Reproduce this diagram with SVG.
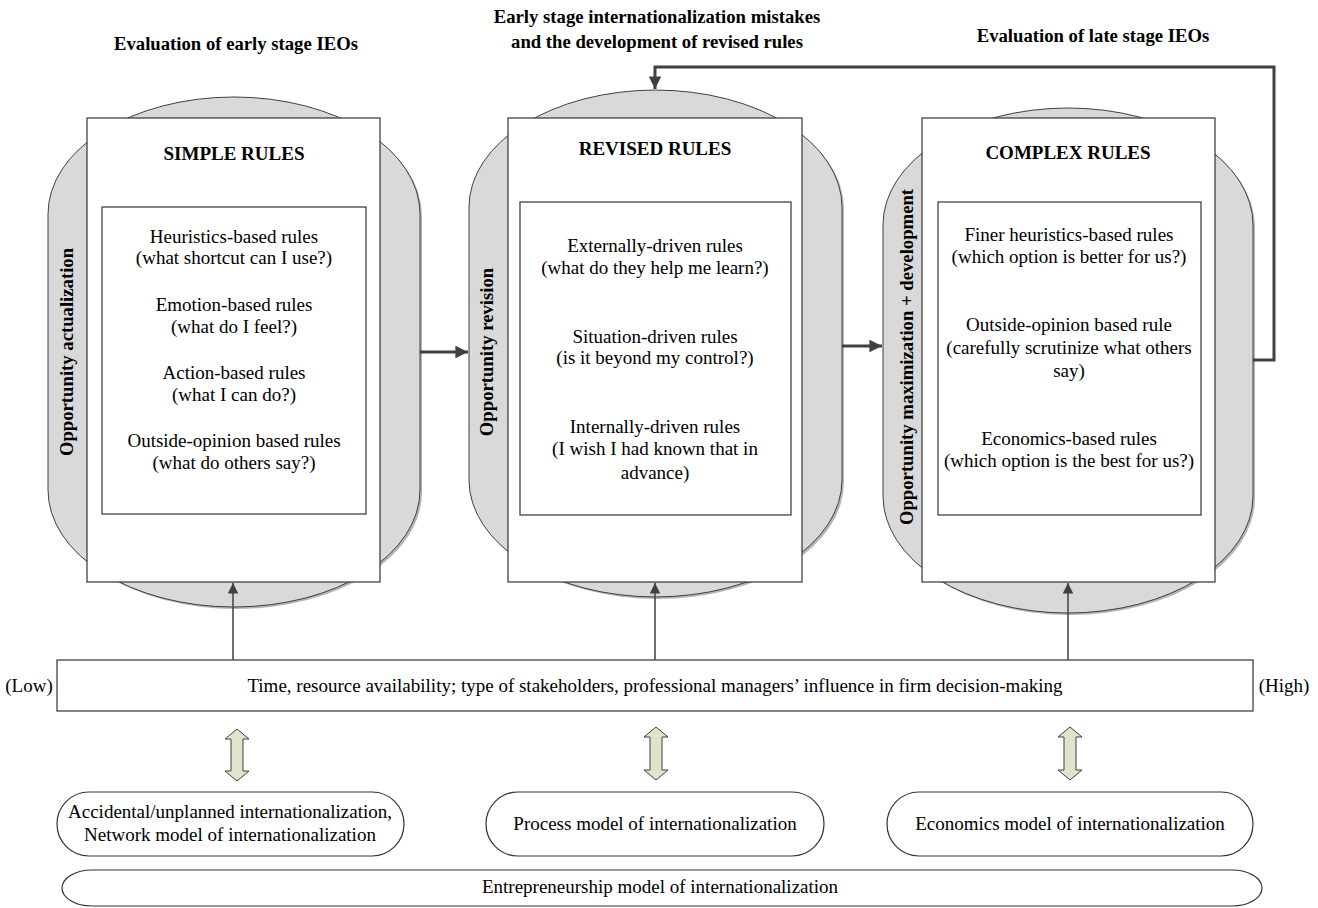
<svg xmlns="http://www.w3.org/2000/svg" width="1318" height="908" viewBox="0 0 1318 908">
<defs>
<style>
text{font-family:"Liberation Serif","Times New Roman",serif;fill:#000;}
.t{font-size:19px;text-anchor:middle;}
.b{font-size:18.7px;font-weight:bold;text-anchor:middle;}
.h{font-size:19px;font-weight:bold;text-anchor:middle;}
.v{font-size:18.7px;font-weight:bold;text-anchor:middle;}
.gray{fill:#d9d9d9;stroke:#404040;stroke-width:1;}
.shadow{fill:#b5b5b5;stroke:none;}
.white{fill:#fff;stroke:#333;stroke-width:1.2;}
.thick{fill:none;stroke:#404040;stroke-width:3;}
.thin{fill:none;stroke:#404040;stroke-width:1.5;}
.dbl{fill:#dde5cc;stroke:#404040;stroke-width:1;}
.pill{fill:#fff;stroke:#333;stroke-width:1.2;}
</style>
<marker id="ah" viewBox="0 0 10 10" refX="10" refY="5" markerWidth="4.2" markerHeight="4.2" markerUnits="strokeWidth" orient="auto">
<path d="M0,0 L10,5 L0,10 Z" fill="#404040"/>
</marker>
<marker id="ahs" viewBox="0 0 10 10" refX="10" refY="5" markerWidth="8" markerHeight="7" markerUnits="strokeWidth" orient="auto">
<path d="M0,0 L10,5 L0,10 Z" fill="#404040"/>
</marker>
</defs>

<g id="titles">
<text class="b" x="236" y="50">Evaluation of early stage IEOs</text>
<text class="b" x="657" y="23">Early stage internationalization mistakes</text>
<text class="b" x="657" y="48">and the development of revised rules</text>
<text class="b" x="1093" y="42">Evaluation of late stage IEOs</text>
</g>

<g id="node-simple">
<path class="shadow" d="M50,216 A186,117 0 0 1 422,216 L422,492 A186,117 0 0 1 50,492 Z"/>
<path class="gray" d="M48,214 A186,117 0 0 1 420,214 L420,490 A186,117 0 0 1 48,490 Z"/>
<rect class="white" x="87" y="118" width="293" height="464"/>
<text class="h" x="234" y="160">SIMPLE RULES</text>
<rect class="white" x="102" y="207" width="264" height="307"/>
<text class="t" x="234" y="243">Heuristics-based rules</text>
<text class="t" x="234" y="264">(what shortcut can I use?)</text>
<text class="t" x="234" y="311">Emotion-based rules</text>
<text class="t" x="234" y="333">(what do I feel?)</text>
<text class="t" x="234" y="379">Action-based rules</text>
<text class="t" x="234" y="401">(what I can do?)</text>
<text class="t" x="234" y="447">Outside-opinion based rules</text>
<text class="t" x="234" y="469">(what do others say?)</text>
<text class="v" transform="translate(73,352) rotate(-90)">Opportunity actualization</text>
</g>

<g id="node-revised">
<path class="shadow" d="M471,209 A186.5,117 0 0 1 844,209 L844,482 A186.5,117 0 0 1 471,482 Z"/>
<path class="gray" d="M469,207 A186.5,117 0 0 1 842,207 L842,480 A186.5,117 0 0 1 469,480 Z"/>
<rect class="white" x="508" y="118" width="294" height="464"/>
<text class="h" x="655" y="155">REVISED RULES</text>
<rect class="white" x="520" y="202" width="271" height="313"/>
<text class="t" x="655" y="252">Externally-driven rules</text>
<text class="t" x="655" y="274">(what do they help me learn?)</text>
<text class="t" x="655" y="343">Situation-driven rules</text>
<text class="t" x="655" y="364">(is it beyond my control?)</text>
<text class="t" x="655" y="433">Internally-driven rules</text>
<text class="t" x="655" y="455">(I wish I had known that in</text>
<text class="t" x="655" y="479">advance)</text>
<text class="v" transform="translate(493,352) rotate(-90)">Opportunity revision</text>
</g>

<g id="node-complex">
<path class="shadow" d="M885,227 A185,117 0 0 1 1255,227 L1255,498 A185,117 0 0 1 885,498 Z"/>
<path class="gray" d="M883,225 A185,117 0 0 1 1253,225 L1253,496 A185,117 0 0 1 883,496 Z"/>
<rect class="white" x="922" y="118" width="293" height="464"/>
<text class="h" x="1068" y="159">COMPLEX RULES</text>
<rect class="white" x="938" y="202" width="263" height="313"/>
<text class="t" x="1069" y="241">Finer heuristics-based rules</text>
<text class="t" x="1069" y="263">(which option is better for us?)</text>
<text class="t" x="1069" y="331">Outside-opinion based rule</text>
<text class="t" x="1069" y="354">(carefully scrutinize what others</text>
<text class="t" x="1069" y="377">say)</text>
<text class="t" x="1069" y="445">Economics-based rules</text>
<text class="t" x="1069" y="467">(which option is the best for us?)</text>
<text class="v" transform="translate(913,357) rotate(-90)">Opportunity maximization + development</text>
</g>

<g id="node-factors">
<rect class="white" x="57" y="660" width="1196" height="51"/>
<text class="t" x="655" y="692">Time, resource availability; type of stakeholders, professional managers’ influence in firm decision-making</text>
<text class="t" x="29" y="692">(Low)</text>
<text class="t" x="1284" y="692">(High)</text>
</g>

<g id="node-accidental">
<rect class="pill" x="57" y="792" width="347" height="64" rx="32" ry="32"/>
<text class="t" x="230" y="818">Accidental/unplanned internationalization,</text>
<text class="t" x="230" y="841">Network model of internationalization</text>
</g>
<g id="node-process">
<rect class="pill" x="486" y="792" width="338" height="64" rx="32" ry="32"/>
<text class="t" x="655" y="830">Process model of internationalization</text>
</g>
<g id="node-economics">
<rect class="pill" x="887" y="792" width="366" height="64" rx="32" ry="32"/>
<text class="t" x="1070" y="830">Economics model of internationalization</text>
</g>
<g id="node-entrepreneurship">
<rect class="pill" x="62" y="870" width="1200" height="36" rx="30" ry="18"/>
<text class="t" x="660" y="893">Entrepreneurship model of internationalization</text>
</g>

<g id="connectors">
<line class="thick" x1="420" y1="352" x2="468" y2="352" marker-end="url(#ah)"/>
<line class="thick" x1="842" y1="346" x2="882" y2="346" marker-end="url(#ah)"/>
<path class="thick" d="M1253,360 H1274 V67 H655 V89" marker-end="url(#ah)"/>
<line class="thin" x1="233" y1="660" x2="233" y2="583" marker-end="url(#ahs)"/>
<line class="thin" x1="655" y1="660" x2="655" y2="583" marker-end="url(#ahs)"/>
<line class="thin" x1="1068" y1="660" x2="1068" y2="583" marker-end="url(#ahs)"/>
<path class="dbl" d="M237,729 L249,739 L243,739 L243,771 L249,771 L237,781 L225,771 L231,771 L231,739 L225,739 Z"/>
<path class="dbl" d="M656,727 L668,737 L662,737 L662,770 L668,770 L656,780 L644,770 L650,770 L650,737 L644,737 Z"/>
<path class="dbl" d="M1070,727 L1082,737 L1076,737 L1076,770 L1082,770 L1070,780 L1058,770 L1064,770 L1064,737 L1058,737 Z"/>
</g>
</svg>
